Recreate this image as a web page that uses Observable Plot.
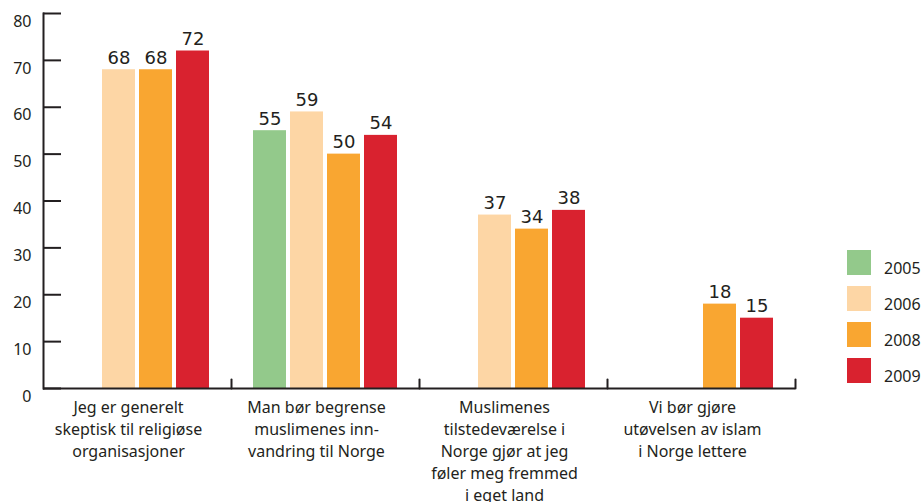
<!DOCTYPE html>
<html>
<head>
<meta charset="utf-8">
<script src="https://cdn.jsdelivr.net/npm/d3@7"></script>
<script src="https://cdn.jsdelivr.net/npm/@observablehq/plot@0.6"></script>
<style>
  body { margin: 0; background: #fff; }
  #wrap { position: relative; width: 923px; height: 502px; }
  .legend-item { position: absolute; left: 847px; display: flex; align-items: center; font-family: "Noto Sans", sans-serif; font-size: 16px; color: #231f20; }
  .legend-item .sw { width: 24px; height: 25px; margin-right: 13px; }
  .legend-item .lb { position: relative; top: 5px; }
</style>
</head>
<body>
<div id="wrap"></div>
<script>
const categories = [
  "Jeg er generelt\nskeptisk til religiøse\norganisasjoner",
  "Man bør begrense\nmuslimenes inn-\nvandring til Norge",
  "Muslimenes\ntilstedeværelse i\nNorge gjør at jeg\nføler meg fremmed\ni eget land",
  "Vi bør gjøre\nutøvelsen av islam\ni Norge lettere"
];
const years = ["2005", "2006", "2008", "2009"];
const values2005 = [null, 55, null, null];
const values2006 = [68, 59, 37, null];
const values2008 = [68, 50, 34, 18];
const values2009 = [72, 54, 38, 15];
const colors = ["#93c98b", "#fdd6a5", "#f9a631", "#d9222f"];
const yTicks = [0, 10, 20, 30, 40, 50, 60, 70, 80];

const series = {"2005": values2005, "2006": values2006, "2008": values2008, "2009": values2009};
const data = years.flatMap(y => categories.map((c, i) => ({category: c, year: y, value: series[y][i]})))
  .filter(d => d.value != null);

const ink = "#231f20";
const lineShape = {draw(context, l) { context.moveTo(0, 0); context.lineTo(0, -l); }};

const plot = Plot.plot({
  width: 923,
  height: 502,
  marginTop: 13,
  marginBottom: 114,
  marginLeft: 42,
  marginRight: 128,
  style: {fontFamily: "Noto Sans, sans-serif", color: ink, background: "#fff"},
  fx: {domain: categories, padding: 0, axis: null},
  x: {domain: years, paddingInner: 0.1, paddingOuter: 0.55, axis: null},
  y: {domain: [0, 80], label: null},
  color: {domain: years, range: colors},
  marks: [
    Plot.barY(data, {fx: "category", x: "year", y: "value", fill: "year"}),
    Plot.text(data, {fx: "category", x: "year", y: "value", text: d => String(d.value),
      lineAnchor: "bottom", dy: -6, fontSize: 18, fontFamily: "DejaVu Sans", fill: ink}),
    Plot.ruleY([0], {stroke: ink, strokeWidth: 2}),
    Plot.frame({anchor: "left", stroke: ink, strokeWidth: 2, facetAnchor: "left"}),
    Plot.axisY({ticks: yTicks, tickSize: -18, tickFormat: () => "", strokeWidth: 2, stroke: ink, facetAnchor: "left", label: null}),
    Plot.vector([0], {frameAnchor: "bottom-right", rotate: 0, length: 9, anchor: "start",
      shape: lineShape, stroke: ink, strokeWidth: 2}),
    Plot.axisY({ticks: yTicks, tickSize: 0, tickPadding: 12, fontSize: 16, dy: 8, facetAnchor: "left", fill: ink, label: null}),
    Plot.text(categories, {fx: d => d, text: d => d, frameAnchor: "bottom", lineAnchor: "top",
      dy: 9, dx: -9, fontSize: 16, lineHeight: 1.375, fill: ink})
  ]
});

const wrap = document.getElementById("wrap");
wrap.appendChild(plot);

years.forEach((y, i) => {
  const item = document.createElement("div");
  item.className = "legend-item";
  item.style.top = (250 + i * 36) + "px";
  item.innerHTML = `<div class="sw" style="background:${colors[i]}"></div><span class="lb">${y}</span>`;
  wrap.appendChild(item);
});
</script>
</body>
</html>
